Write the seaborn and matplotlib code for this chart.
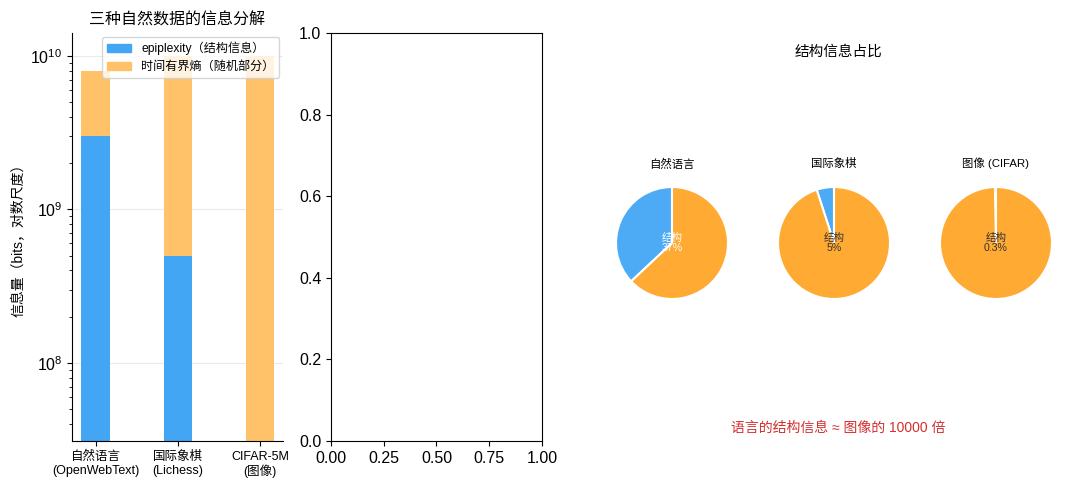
import matplotlib
matplotlib.use('Agg')
import matplotlib.pyplot as plt
from matplotlib.patches import Patch
from matplotlib.ticker import MultipleLocator
import seaborn as sns
import pandas as pd

# ---- data ----
categories = ['自然语言\n(OpenWebText)', '国际象棋\n(Lichess)', 'CIFAR-5M\n(图像)']
structure_bits = [3e9, 5e8, 3e7]
random_bits = [5e9, 9.5e9, 9.97e9]
pie_titles = ['自然语言', '国际象棋', '图像 (CIFAR)']
structure_pct = [37, 5, 0.3]
pct_labels = ['37%', '5%', '0.3%']
legend_labels = ['epiplexity（结构信息）', '时间有界熵（随机部分）']

plt.rcParams['font.family'] = ['Liberation Sans', 'Noto Sans CJK SC', 'DejaVu Sans']
plt.rcParams['axes.unicode_minus'] = False

BLUE_BAR = '#42A6F5'
ORANGE_BAR = '#FFC268'
BLUE_PIE = '#4DABF6'
ORANGE_PIE = '#FFAA33'

W, H = 1080, 490
fig = plt.figure(figsize=(W / 100, H / 100), dpi=100)

def px(l, t, w, h):
    return [l / W, 1 - (t + h) / H, w / W, h / H]

# ---- left: stacked bars on log scale ----
ax1 = fig.add_axes(px(72, 33, 211, 408))
df = pd.DataFrame({
    'cat': categories,
    'structure': structure_bits,
    'total': [s + r for s, r in zip(structure_bits, random_bits)],
})
sns.barplot(data=df, x='cat', y='total', color=ORANGE_BAR, saturation=1,
            width=0.35, ax=ax1)
sns.barplot(data=df, x='cat', y='structure', color=BLUE_BAR, saturation=1,
            width=0.35, ax=ax1)
ax1.set_yscale('log')
ax1.set_ylim(3.1e7, 1.41e10)
ax1.set_xlim(-0.29, 2.28)
ax1.set_xlabel('')
ax1.set_ylabel('信息量（bits，对数尺度）', fontsize=10)
ax1.set_title('三种自然数据的信息分解', fontsize=11.5)
ax1.tick_params(axis='x', labelsize=9)
ax1.tick_params(axis='y', labelsize=11.5)
ax1.grid(axis='y', which='major', color='#dddddd', alpha=0.6, linewidth=0.8)
ax1.set_axisbelow(True)
for s in ['top', 'right']:
    ax1.spines[s].set_visible(False)
ax1.legend(handles=[Patch(color=BLUE_BAR, label=legend_labels[0]),
                    Patch(color=ORANGE_BAR, label=legend_labels[1])],
           loc='upper right', fontsize=8.7, borderaxespad=0.3)

# ---- middle: empty axes ----
ax2 = fig.add_axes(px(331, 33, 211, 408))
ax2.xaxis.set_major_locator(MultipleLocator(0.25))
ax2.yaxis.set_major_locator(MultipleLocator(0.2))
ax2.tick_params(labelsize=11.5)

# ---- right: pies ----
fig.text(838 / W, 1 - 52 / H, '结构信息占比', ha='center', va='center', fontsize=10.5)
centers = [672, 834, 996]
for i, cx in enumerate(centers):
    axp = fig.add_axes(px(cx - 70, 243 - 70, 140, 140))
    axp.pie([structure_pct[i], 100 - structure_pct[i]],
            colors=[BLUE_PIE, ORANGE_PIE], startangle=90,
            wedgeprops=dict(edgecolor='white', linewidth=1.5))
    axp.set_title(pie_titles[i], fontsize=8.2, pad=4)
    axp.text(0, 0, '结构\n' + pct_labels[i], ha='center', va='center',
             fontsize=7.6, color='white' if i == 0 else '#333333',
             linespacing=1.0)

fig.text(838 / W, 1 - 428 / H, '语言的结构信息 ≈ 图像的 10000 倍',
         ha='center', va='center', fontsize=10, color='#D32F2F')

fig.savefig('out.png', dpi=100)
